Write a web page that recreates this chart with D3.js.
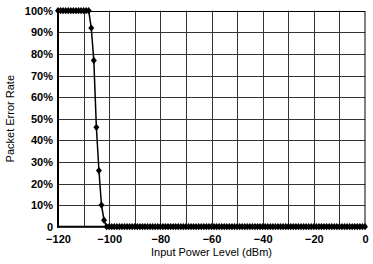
<!DOCTYPE html>
<html>
<head>
<meta charset="utf-8">
<script src="https://cdn.jsdelivr.net/npm/d3@7"></script>
<style>
html,body{margin:0;padding:0;background:#fff;}
svg{display:block;}
text{font-family:"Liberation Sans",Arial,sans-serif;fill:#000;}
</style>
</head>
<body>
<script>
const inputPower = [
-120,-119,-118,-117,-116,-115,-114,-113,-112,-111,
-110,-109,-108,-107,-106,-105,-104,-103,-102,-101,
-100,-99,-98,-97,-96,-95,-94,-93,-92,-91,
-90,-89,-88,-87,-86,-85,-84,-83,-82,-81,
-80,-79,-78,-77,-76,-75,-74,-73,-72,-71,
-70,-69,-68,-67,-66,-65,-64,-63,-62,-61,
-60,-59,-58,-57,-56,-55,-54,-53,-52,-51,
-50,-49,-48,-47,-46,-45,-44,-43,-42,-41,
-40,-39,-38,-37,-36,-35,-34,-33,-32,-31,
-30,-29,-28,-27,-26,-25,-24,-23,-22,-21,
-20,-19,-18,-17,-16,-15,-14,-13,-12,-11,
-10,-9,-8,-7,-6,-5,-4,-3,-2,-1,
0];
const packetErrorRate = [
100,100,100,100,100,100,100,100,100,100,
100,100,100,92,77,46,26,10,3,0,
0,0,0,0,0,0,0,0,0,0,
0,0,0,0,0,0,0,0,0,0,
0,0,0,0,0,0,0,0,0,0,
0,0,0,0,0,0,0,0,0,0,
0,0,0,0,0,0,0,0,0,0,
0,0,0,0,0,0,0,0,0,0,
0,0,0,0,0,0,0,0,0,0,
0,0,0,0,0,0,0,0,0,0,
0,0,0,0,0,0,0,0,0,0,
0,0,0,0,0,0,0,0,0,0,
0];
const xTicks = [-120,-100,-80,-60,-40,-20,0];
const xGrid = [-110,-100,-90,-80,-70,-60,-50,-40,-30,-20,-10];
const yTicks = [0,10,20,30,40,50,60,70,80,90,100];
const yTickLabels = ["0","10%","20%","30%","40%","50%","60%","70%","80%","90%","100%"];
const xTitle = "Input Power Level (dBm)";
const yTitle = "Packet Error Rate";

const W = 373, H = 264;
const L = 58, R = 365, T = 10.7, B = 226.7;

const svg = d3.select("body").append("svg").attr("width", W).attr("height", H);
const x = d3.scaleLinear().domain([-120, 0]).range([L, R]);
const y = d3.scaleLinear().domain([0, 100]).range([B, T]);

// grid
const g = svg.append("g");
g.selectAll("line.vg").data(xGrid).enter().append("line")
  .attr("x1", d => Math.round(x(d)) + 0.5).attr("x2", d => Math.round(x(d)) + 0.5)
  .attr("y1", T).attr("y2", B)
  .attr("stroke", "#333").attr("stroke-width", 1);
g.selectAll("line.hg").data(yTicks.slice(1, -1)).enter().append("line")
  .attr("x1", L).attr("x2", R)
  .attr("y1", d => Math.round(y(d)) + 0.5).attr("y2", d => Math.round(y(d)) + 0.5)
  .attr("stroke", "#333").attr("stroke-width", 1);

// border
svg.append("rect").attr("x", L).attr("y", Math.round(T) + 0.5).attr("width", R - L).attr("height", B - Math.round(T) - 0.5)
  .attr("fill", "none").attr("stroke", "#000").attr("stroke-width", 1);
svg.append("line").attr("x1", L).attr("x2", L).attr("y1", T).attr("y2", B + 1)
  .attr("stroke", "#000").attr("stroke-width", 2);
svg.append("line").attr("x1", L - 1).attr("x2", R).attr("y1", B).attr("y2", B)
  .attr("stroke", "#000").attr("stroke-width", 2);

// axes labels via d3 axes
const xAxis = d3.axisBottom(x).tickValues(xTicks).tickSize(0).tickPadding(0).tickFormat(d3.format("d"));
const xa = svg.append("g").attr("transform", `translate(0,${B + 8})`).call(xAxis);
xa.select(".domain").remove();
xa.selectAll("text").attr("font-size", 11).attr("font-weight", "bold")
  .attr("font-family", "Liberation Sans, Arial, sans-serif").attr("fill", "#000").attr("dy", "0.71em");

const yAxis = d3.axisLeft(y).tickValues(yTicks).tickSize(0).tickPadding(0).tickFormat((d, i) => yTickLabels[i]);
const ya = svg.append("g").attr("transform", `translate(${L - 5},0)`).call(yAxis);
ya.select(".domain").remove();
ya.selectAll("text").attr("font-size", 11).attr("font-weight", "bold")
  .attr("font-family", "Liberation Sans, Arial, sans-serif").attr("fill", "#000");

// titles
svg.append("text").attr("x", (L + R) / 2).attr("y", 256).attr("text-anchor", "middle")
  .attr("font-size", 11).text(xTitle);
svg.append("text").attr("transform", `translate(14,${(T + B) / 2}) rotate(-90)`)
  .attr("text-anchor", "middle").attr("font-size", 11).text(yTitle);

// data
const data = inputPower.map((p, i) => ({p, v: packetErrorRate[i]}));
const line = d3.line().x(d => x(d.p)).y(d => y(d.v));
svg.append("path").datum(data).attr("d", line)
  .attr("fill", "none").attr("stroke", "#000").attr("stroke-width", 1.5);

const diamond = {
  draw(ctx, size) {
    const w = 3, h = 3.6;
    ctx.moveTo(0, -h); ctx.lineTo(w, 0); ctx.lineTo(0, h); ctx.lineTo(-w, 0); ctx.closePath();
  }
};
svg.append("g").selectAll("path").data(data).enter().append("path")
  .attr("d", d3.symbol().type(diamond))
  .attr("transform", d => `translate(${x(d.p)},${y(d.v)})`)
  .attr("fill", "#000");
</script>
</body>
</html>
